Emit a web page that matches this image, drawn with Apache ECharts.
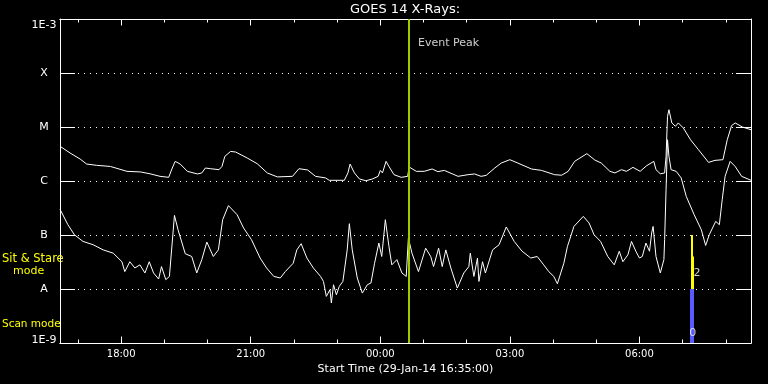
<!DOCTYPE html>
<html><head><meta charset="utf-8">
<script src="https://cdn.jsdelivr.net/npm/echarts@6/dist/echarts.min.js"></script>
<style>html,body{margin:0;padding:0;background:#000}#c{width:768px;height:384px}</style>
</head><body><div id="c"></div>
<script>
// ---- data ----
const chartTitle = 'GOES 14 X-Rays:';
const xAxisTitle = 'Start Time (29-Jan-14 16:35:00)';
const spanMinutes = 960; // minutes after 16:35
const majorTickMin = [85, 265, 445, 625, 805];
const majorTickLabels = ['18:00', '21:00', '00:00', '03:00', '06:00'];
const minorTickMin = [25, 145, 205, 325, 385, 505, 565, 685, 745, 865, 925];
const yDecades = [1e-9, 1e-8, 1e-7, 1e-6, 1e-5, 1e-4, 1e-3];
const yDecadeLabels = ['1E-9', 'A', 'B', 'C', 'M', 'X', '1E-3'];

// long channel (upper curve)
const longMin = [0,14,28,37,51,70,93,112,125,139,151,156,160,167,177,191,197,202,209,221,225,229,237,244,260,274,288,302,323,332,344,355,369,374,395,400,403,409,416,425,434,442,445,448,453,457,464,474,483,485,495,506,517,525,534,553,567,576,585,592,604,613,625,636,655,669,687,697,706,715,732,743,752,764,771,780,787,796,806,815,825,828,834,840,842,844,846,850,855,859,866,876,887,901,910,921,927,933,938,948,960];
const longFlux = [4.4e-6,3.3e-6,2.55e-6,2.06e-6,1.95e-6,1.86e-6,1.51e-6,1.47e-6,1.36e-6,1.22e-6,1.17e-6,1.74e-6,2.31e-6,2.06e-6,1.51e-6,1.35e-6,1.41e-6,1.74e-6,1.69e-6,1.62e-6,1.86e-6,2.86e-6,3.53e-6,3.44e-6,2.67e-6,2.09e-6,1.41e-6,1.19e-6,1.22e-6,1.69e-6,1.6e-6,1.22e-6,1.14e-6,1.03e-6,1.03e-6,1.41e-6,2.06e-6,1.41e-6,1.09e-6,1.01e-6,1.09e-6,1.22e-6,1.57e-6,1.41e-6,2.31e-6,1.86e-6,1.31e-6,1.17e-6,1.22e-6,1.82e-6,1.51e-6,1.51e-6,1.67e-6,1.49e-6,1.57e-6,1.22e-6,1.31e-6,1.35e-6,1.22e-6,1.27e-6,1.74e-6,2.15e-6,2.48e-6,2.15e-6,1.67e-6,1.57e-6,1.31e-6,1.28e-6,1.51e-6,2.31e-6,3.21e-6,2.45e-6,2.15e-6,1.51e-6,1.41e-6,1.62e-6,1.51e-6,1.79e-6,1.51e-6,1.92e-6,2.31e-6,1.62e-6,1.36e-6,1.41e-6,2.86e-6,1.57e-5,2.09e-5,1.19e-5,1.03e-5,1.19e-5,9.6e-6,5.8e-6,3.8e-6,2.21e-6,2.41e-6,2.48e-6,5.8e-6,1.06e-5,1.19e-5,1.0e-5,8.9e-6];

// short channel (lower curve)
const shortMin = [0,11,20,32,46,60,74,86,90,97,104,111,118,124,130,137,141,147,152,159,164,174,183,190,197,204,213,220,226,234,246,255,266,278,287,297,306,313,324,329,335,343,352,362,366,370,375,377,380,384,388,393,399,402,406,413,420,427,432,437,443,447,452,457,461,468,475,481,484,489,498,508,515,519,526,531,536,543,552,561,568,570,575,580,582,587,591,601,610,620,631,642,654,663,672,679,686,691,700,705,714,727,735,742,751,761,770,777,782,789,794,800,805,809,814,819,822,824,828,834,839,840,842,844,846,849,856,863,870,881,891,897,902,911,916,920,924,931,938,947,960];
const shortFlux = [3.0e-7,1.55e-7,1.01e-7,7.6e-8,6.6e-8,5.3e-8,4.6e-8,3.2e-8,2.1e-8,3.2e-8,2.45e-8,2.8e-8,1.98e-8,3.2e-8,1.98e-8,1.53e-8,2.6e-8,1.49e-8,1.71e-8,2.31e-7,1.25e-7,4.5e-8,4.0e-8,1.98e-8,3.5e-8,7.4e-8,4.0e-8,5.3e-8,1.92e-7,3.5e-7,2.38e-7,1.35e-7,8.2e-8,3.75e-8,2.45e-8,1.71e-8,1.6e-8,2.1e-8,3.0e-8,5.3e-8,6.9e-8,3.75e-8,2.45e-8,1.71e-8,1.38e-8,7.3e-9,9.7e-9,5.5e-9,1.2e-8,7.8e-9,1.12e-8,1.38e-8,5.3e-8,1.62e-7,5.3e-8,1.6e-8,8.4e-9,1.2e-8,1.29e-8,3.0e-8,7.1e-8,4.0e-8,1.92e-7,6.15e-8,2.8e-8,3.5e-8,1.98e-8,1.71e-8,8.8e-8,4.6e-8,2.1e-8,5.7e-8,4.0e-8,2.6e-8,5.7e-8,2.6e-8,5.3e-8,2.45e-8,1.04e-8,1.98e-8,2.6e-8,4.6e-8,1.71e-8,3.75e-8,1.38e-8,3.2e-8,1.98e-8,5.3e-8,6.6e-8,1.41e-7,7.6e-8,5.0e-8,3.75e-8,4.0e-8,2.8e-8,2.1e-8,1.71e-8,1.25e-8,3.0e-8,6.15e-8,1.44e-7,2.21e-7,1.67e-7,1.01e-7,7.6e-8,4.0e-8,2.8e-8,5.0e-8,3.2e-8,4.3e-8,7.6e-8,5.0e-8,3.75e-8,4.0e-8,7.1e-8,5.0e-8,1.09e-7,1.44e-7,4.0e-8,1.98e-8,3.5e-8,8.2e-8,6.9e-7,5.8e-6,2.86e-6,1.62e-6,1.51e-6,1.14e-6,5.2e-7,2.38e-7,1.25e-7,6.4e-8,1.01e-7,1.79e-7,1.55e-7,4.5e-7,1.22e-6,2.31e-6,1.86e-6,1.22e-6,1.03e-6];

const eventPeakMin = 485;
const eventPeakText = 'Event Peak';
const modeMin = 877;
const modeTexts = ['2', '0'];

// ---- chart ----
const FONT = 'DejaVu Sans';
const pairs = (xs, ys) => xs.map((x, i) => [x, ys[i]]);
const decadeIndex = v => yDecades.findIndex(d => Math.abs(Math.log10(d) - Math.log10(v)) < 1e-6);
const labelOf = v => {
  const i = decadeIndex(v);
  if (i < 0) return '';
  if (i === yDecades.length - 1) return '{top|' + yDecadeLabels[i] + '}';
  if (i === 0) return '{bot|' + yDecadeLabels[i] + '}';
  return yDecadeLabels[i];
};
function xAx(pos, ticks, len, labels) {
  return {
    type: 'value', min: 0, max: spanMinutes, position: pos,
    axisLine: { show: true, onZero: false, lineStyle: { color: '#fff', width: 1 } },
    axisTick: { show: true, inside: true, length: len, customValues: ticks, lineStyle: { color: '#fff', width: 1 } },
    axisLabel: labels ? {
      show: true, customValues: ticks, color: '#fff', fontFamily: FONT, fontSize: 10, margin: 6,
      formatter: v => majorTickLabels[majorTickMin.indexOf(Math.round(v))] || ''
    } : { show: false },
    splitLine: { show: false },
    name: labels ? xAxisTitle : '', nameLocation: 'middle', nameGap: 19,
    nameTextStyle: { color: '#fff', fontFamily: FONT, fontSize: 11 }
  };
}
function yAx(pos, labels) {
  return {
    type: 'log', logBase: 10, min: 1e-9, max: 1e-3, position: pos,
    axisLine: { show: true, onZero: false, lineStyle: { color: '#fff', width: 1 } },
    axisTick: { show: true, inside: true, length: 15, lineStyle: { color: '#fff', width: 1 } },
    minorTick: { show: false },
    axisLabel: labels ? {
      show: true, color: '#fff', fontFamily: FONT, fontSize: 11, align: 'center', margin: 16,
      formatter: labelOf,
      rich: {
        top: { color: '#fff', fontFamily: FONT, fontSize: 11, padding: [12, 0, 0, 0] },
        bot: { color: '#fff', fontFamily: FONT, fontSize: 11, padding: [0, 0, 6, 0] }
      }
    } : { show: false },
    splitLine: { show: labels, lineStyle: { color: '#fff', width: 1, type: [1, 5] } }
  };
}

const chart = echarts.init(document.getElementById('c'), null, { renderer: 'canvas' });
chart.setOption({
  backgroundColor: '#000',
  animation: false,
  grid: { left: 60, right: 17, top: 19, bottom: 41, containLabel: false },
  xAxis: [xAx('bottom', majorTickMin, 6.5, true), xAx('bottom', minorTickMin, 3.5, false),
          xAx('top', majorTickMin, 6.5, false), xAx('top', minorTickMin, 3.5, false)],
  yAxis: [yAx('left', true), yAx('right', false)],
  graphic: [
    { type: 'text', x: 405, y: 10, style: { text: chartTitle, fill: '#fff', font: '13px "DejaVu Sans"', textAlign: 'center', textVerticalAlign: 'middle' } },
    { type: 'text', x: 2, y: 259, style: { text: 'Sit & Stare', fill: '#ffff00', font: '11.5px "DejaVu Sans"', textAlign: 'left', textVerticalAlign: 'middle' } },
    { type: 'text', x: 13, y: 271, style: { text: 'mode', fill: '#ffff00', font: '11px "DejaVu Sans"', textAlign: 'left', textVerticalAlign: 'middle' } },
    { type: 'text', x: 2, y: 324, style: { text: 'Scan mode', fill: '#ffff00', font: '10.5px "DejaVu Sans"', textAlign: 'left', textVerticalAlign: 'middle' } }
  ],
  series: [
    {
      type: 'line', name: 'long', data: pairs(longMin, longFlux), showSymbol: false, symbol: 'none',
      lineStyle: { color: '#fff', width: 1 }, xAxisIndex: 0, yAxisIndex: 0, z: 3,
      markLine: {
        silent: true, symbol: ['none', 'none'], label: { show: false }, animation: false,
        data: [
          { xAxis: eventPeakMin, lineStyle: { color: '#9ccc00', width: 2, type: 'solid' } },
          [{ coord: [modeMin + 1, 1e-8], lineStyle: { color: '#ffff00', width: 2, type: 'solid' } }, { coord: [modeMin + 1, 1e-7] }],
          [{ coord: [modeMin + 1.5, 1e-8], lineStyle: { color: '#ffff00', width: 3, type: 'solid' } }, { coord: [modeMin + 1.5, 4e-8] }],
          [{ coord: [modeMin, 1e-9], lineStyle: { color: '#5a5aff', width: 4, type: 'solid' } }, { coord: [modeMin, 1e-8] }]
        ]
      }
    },
    {
      type: 'line', name: 'short', data: pairs(shortMin, shortFlux), showSymbol: false, symbol: 'none',
      lineStyle: { color: '#fff', width: 1 }, xAxisIndex: 0, yAxisIndex: 0, z: 3
    },
    {
      type: 'scatter', symbolSize: 0, xAxisIndex: 0, yAxisIndex: 0, z: 5,
      data: [
        { value: [eventPeakMin, 3.64e-4], label: { formatter: eventPeakText, position: 'right', distance: 9 } },
        { value: [modeMin + 8, 2.0e-8], label: { formatter: modeTexts[0], position: 'inside' } },
        { value: [modeMin + 2, 1.55e-9], label: { formatter: modeTexts[1], position: 'inside' } }
      ],
      label: { show: true, color: '#fff', fontFamily: FONT, fontSize: 11 }
    }
  ]
});
</script></body></html>
